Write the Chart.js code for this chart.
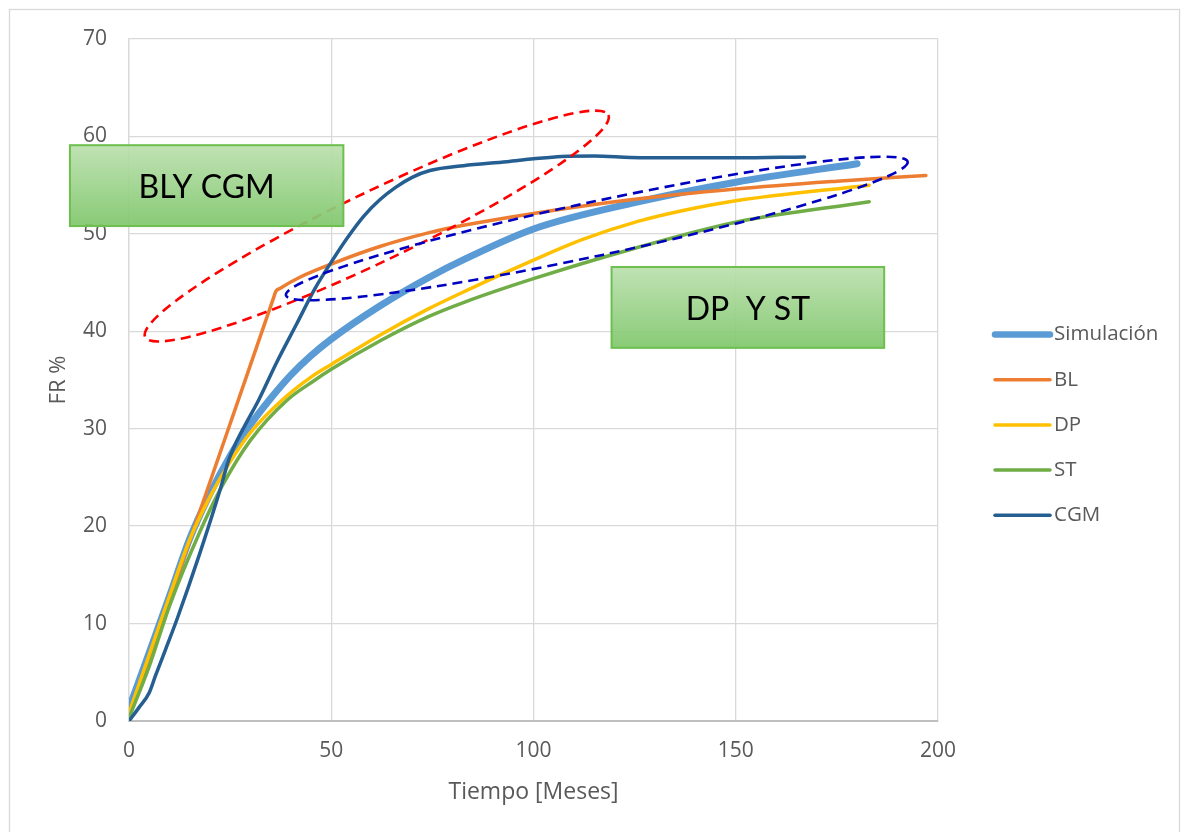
<!DOCTYPE html>
<html>
<head>
<meta charset="utf-8">
<script src="https://cdn.jsdelivr.net/npm/chart.js@4.4.1/dist/chart.umd.min.js"></script>
<style>
  html, body { margin: 0; padding: 0; background: #fff; }
  #wrap { width: 1189px; height: 832px; }
</style>
</head>
<body>
<div id="wrap"><canvas id="fr-chart" width="1189" height="832"></canvas></div>
<script>
'use strict';

// values
const X_TICKS = [0, 50, 100, 150, 200];
const Y_TICKS = [0, 10, 20, 30, 40, 50, 60, 70];

const simMeses = [0, 5, 10, 15, 20, 25, 30, 35, 40, 45, 50, 62, 74, 83, 100, 125, 150, 180];
const simFR    = [1.3, 7, 12.8, 18.7, 23.3, 27.2, 30.4, 33.1, 35.5, 37.5, 39.2, 42.6, 45.5, 47.4, 50.5, 53.2, 55.3, 57.2];

const blMeses = [0, 12, 24, 35.8, 36.3, 37.3, 42, 50, 62, 74, 83, 100, 124, 150, 175, 197];
const blFR    = [0.5, 14.9, 29.3, 43.5, 44.1, 44.4, 45.5, 46.9, 48.7, 50.1, 50.9, 52.1, 53.5, 54.6, 55.4, 56.0];

const dpMeses = [0, 5, 10, 15, 20, 25, 30, 38, 45, 50, 62, 74, 83, 100, 112, 126, 137, 150, 183];
const dpFR    = [0.8, 6.8, 12.8, 18.6, 23, 26.6, 29.6, 33, 35.3, 36.6, 39.6, 42.3, 44.1, 47.3, 49.4, 51.3, 52.4, 53.4, 55.0];

const stMeses = [0, 5, 10, 17.5, 23, 30, 39, 46, 50, 62, 74, 83, 100, 124, 150, 183];
const stFR    = [0.3, 5.6, 11.8, 19.4, 24.1, 28.8, 32.9, 35, 36.1, 39.0, 41.5, 43.0, 45.4, 48.4, 51.2, 53.3];

const cgmMeses = [0, 2.5, 5, 6.5, 9, 12, 17.5, 22.5, 24.5, 26.5, 29, 32, 36.5, 41.5, 46, 50, 54, 58, 62, 66, 70, 74.4, 82.7, 93.4, 100, 107, 115, 124, 135, 150, 167];
const cgmFR    = [0, 1.4, 2.9, 4.6, 7.3, 10.6, 17.2, 23.7, 26.6, 28.6, 30.6, 32.9, 36.8, 40.8, 44.4, 47.1, 49.6, 51.8, 53.5, 54.8, 55.8, 56.5, 57.0, 57.4, 57.7, 57.95, 58.0, 57.85, 57.8, 57.8, 57.9];

// annotations, in data units (tip to tip of each ellipse)
const ELLIPSES = [
  { from: [4, 39.4],    to: [118.5, 62.2], half: 35, color: '#ff0000' },
  { from: [38.8, 43.7], to: [192.5, 57.4], half: 27, color: '#0000c0' },
];
const BOXES = [
  { text: 'BLY CGM',  x: [-14.6, 53.0],  y: [59.1, 50.8] },
  { text: 'DP  Y ST', x: [119.3, 186.7], y: [46.6, 38.3] },
];

const TEXT = '#595959';
const GRID = '#d9d9d9';
const FONT = 'Open Sans';

function points(xs, ys) {
  return xs.map((x, i) => ({ x, y: ys[i] }));
}

function series(label, xs, ys, color, width, order) {
  return {
    label,
    data: points(xs, ys),
    borderColor: color,
    backgroundColor: color,
    borderWidth: width,
    borderCapStyle: 'round',
    borderJoinStyle: 'round',
    pointRadius: 0,
    pointHoverRadius: 0,
    cubicInterpolationMode: 'monotone',
    fill: false,
    order,
  };
}

const framePlugin = {
  id: 'frame',
  beforeDraw(chart) {
    const { ctx, width, height } = chart;
    ctx.save();
    ctx.fillStyle = '#fff';
    ctx.fillRect(0, 0, width, height);
    ctx.strokeStyle = GRID;
    ctx.lineWidth = 1.3;
    ctx.strokeRect(9.5, 9.5, width - 19, height + 20);
    ctx.restore();
  },
};

const notesPlugin = {
  id: 'notes',
  afterDatasetsDraw(chart) {
    const { ctx } = chart;
    const sx = chart.scales.x;
    const sy = chart.scales.y;

    ctx.save();
    for (const e of ELLIPSES) {
      const x1 = sx.getPixelForValue(e.from[0]);
      const y1 = sy.getPixelForValue(e.from[1]);
      const x2 = sx.getPixelForValue(e.to[0]);
      const y2 = sy.getPixelForValue(e.to[1]);
      ctx.beginPath();
      ctx.ellipse((x1 + x2) / 2, (y1 + y2) / 2, Math.hypot(x2 - x1, y2 - y1) / 2, e.half,
        Math.atan2(y2 - y1, x2 - x1), 0, Math.PI * 2);
      ctx.setLineDash([10, 6]);
      ctx.lineWidth = 2.6;
      ctx.strokeStyle = e.color;
      ctx.stroke();
    }
    ctx.setLineDash([]);

    for (const b of BOXES) {
      const left = sx.getPixelForValue(b.x[0]);
      const right = sx.getPixelForValue(b.x[1]);
      const top = sy.getPixelForValue(b.y[0]);
      const bottom = sy.getPixelForValue(b.y[1]);
      const grad = ctx.createLinearGradient(0, top, 0, bottom);
      grad.addColorStop(0, '#bbe0ae');
      grad.addColorStop(1, '#80c76c');
      ctx.globalAlpha = 0.93;
      ctx.fillStyle = grad;
      ctx.fillRect(left, top, right - left, bottom - top);
      ctx.globalAlpha = 1;
      ctx.strokeStyle = '#6dbf4e';
      ctx.lineWidth = 2;
      ctx.strokeRect(left, top, right - left, bottom - top);
      ctx.fillStyle = '#000';
      ctx.font = '32px Lato';
      ctx.textAlign = 'center';
      ctx.textBaseline = 'middle';
      ctx.fillText(b.text, (left + right) / 2, (top + bottom) / 2 + 2);
    }
    ctx.restore();
  },
};

const legendPlugin = {
  id: 'sideLegend',
  afterDraw(chart) {
    const { ctx, chartArea } = chart;
    const lineX0 = chartArea.right + 57;
    const lineX1 = lineX0 + 55;
    const top = 334.5;
    const step = 45.2;
    ctx.save();
    ctx.font = `20.5px "${FONT}"`;
    ctx.textBaseline = 'middle';
    ctx.textAlign = 'left';
    chart.data.datasets.forEach((ds, i) => {
      const y = top + i * step;
      ctx.beginPath();
      ctx.moveTo(lineX0, y);
      ctx.lineTo(lineX1, y);
      ctx.lineCap = 'round';
      ctx.lineWidth = i === 0 ? 6.5 : 3.5;
      ctx.strokeStyle = ds.borderColor;
      ctx.stroke();
      ctx.fillStyle = TEXT;
      ctx.fillText(ds.label, lineX1 + 4, y);
    });
    ctx.restore();
  },
};

new Chart(document.getElementById('fr-chart').getContext('2d'), {
  type: 'line',
  data: {
    datasets: [
      series('Simulación', simMeses, simFR, '#5b9bd5', 7, 4),
      series('BL',  blMeses,  blFR,  '#ed7d31', 3.5, 3),
      series('DP',  dpMeses,  dpFR,  '#ffc000', 3.5, 2),
      series('ST',  stMeses,  stFR,  '#70ad47', 3.5, 1),
      series('CGM', cgmMeses, cgmFR, '#255e91', 3.5, 0),
    ],
  },
  options: {
    responsive: false,
    animation: false,
    events: [],
    layout: { padding: { left: 0, top: 39, right: 251, bottom: 0 } },
    plugins: {
      legend: { display: false },
      tooltip: { enabled: false },
    },
    scales: {
      x: {
        type: 'linear',
        min: X_TICKS[0],
        max: X_TICKS[X_TICKS.length - 1],
        afterBuildTicks: s => { s.ticks = X_TICKS.map(v => ({ value: v })); },
        afterFit: s => { s.height = 111; },
        ticks: { color: TEXT, font: { family: FONT, size: 21 }, padding: 17 },
        grid: { color: GRID, lineWidth: 1.3, drawTicks: false },
        border: { color: '#bfbfbf', width: 2 },
        title: {
          display: true,
          text: 'Tiempo [Meses]',
          color: TEXT,
          font: { family: FONT, size: 23 },
          padding: { top: 0, bottom: 26 },
        },
      },
      y: {
        type: 'linear',
        min: Y_TICKS[0],
        max: Y_TICKS[Y_TICKS.length - 1],
        afterBuildTicks: s => { s.ticks = Y_TICKS.map(v => ({ value: v })); },
        afterFit: s => { s.width = 129; },
        ticks: { color: TEXT, font: { family: FONT, size: 21 }, padding: 22 },
        grid: { color: GRID, lineWidth: 1.3, drawTicks: false },
        border: { color: GRID, width: 1.3 },
        title: {
          display: true,
          text: 'FR %',
          color: TEXT,
          font: { family: FONT, size: 22 },
          padding: { top: 46, bottom: 0 },
        },
      },
    },
  },
  plugins: [framePlugin, notesPlugin, legendPlugin],
});
</script>
</body>
</html>
